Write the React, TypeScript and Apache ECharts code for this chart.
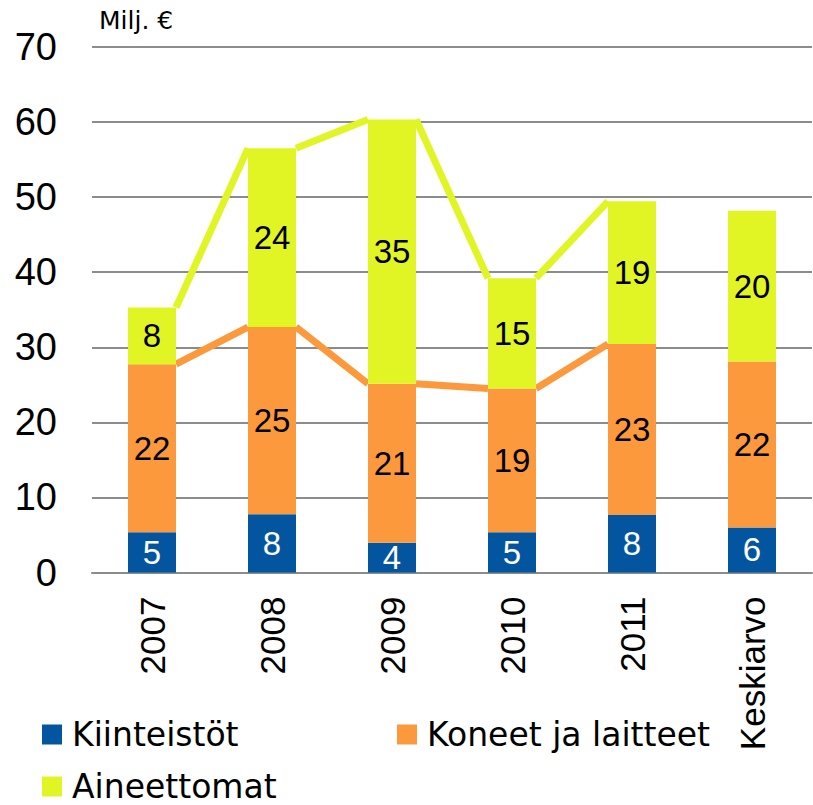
import React, { useEffect, useRef } from "react";
import * as echarts from "echarts";

const categories = ["2007", "2008", "2009", "2010", "2011", "Keskiarvo"];
const kiinteistot = [5.35, 7.75, 3.95, 5.35, 7.65, 6.0];
const koneet = [22.4, 24.95, 21.2, 19.15, 22.8, 22.1];
const aineettomat = [7.55, 23.8, 35.2, 14.7, 19.0, 20.1];
const seriesNames = ["Kiinteistöt", "Koneet ja laitteet", "Aineettomat"];
const yMin = 0;
const yMax = 70;
const yInterval = 10;
const unitLabel = "Milj. €";
// number of categories joined by series lines (2007–2011)
const linkedCount = 5;

const BLUE = "#03559F";
const ORANGE = "#FC993C";
const YELLOW = "#E1F525";
const DIGIT_FONT = "'Liberation Sans Narrow', 'Liberation Sans', sans-serif";
const TEXT_FONT = "'DejaVu Sans', sans-serif";

export default function App() {
  const ref = useRef<HTMLDivElement>(null);
  useEffect(() => {
    if (!ref.current) return;
    const chart = echarts.init(ref.current, null, { renderer: "svg" });

    const orangeTop = kiinteistot.map((v, i) => v + koneet[i]);
    const totalTop = orangeTop.map((v, i) => v + aineettomat[i]);
    const pairs = (tops: number[]) => {
      const out: number[][] = [];
      for (let i = 0; i < linkedCount - 1; i++) out.push([i, tops[i], tops[i + 1]]);
      return out;
    };
    const makeLine = (tops: number[], color: string) => ({
      type: "custom",
      z: 1,
      silent: true,
      encode: { x: 0, y: [1, 2] },
      data: pairs(tops),
      renderItem: (params: any, api: any) => {
        const i = api.value(0);
        const p1 = api.coord([i, api.value(1)]);
        const p2 = api.coord([i + 1, api.value(2)]);
        const half = api.size([1, 0])[0] * 0.2;
        return {
          type: "line",
          shape: { x1: p1[0] + half, y1: p1[1], x2: p2[0] - half, y2: p2[1] },
          style: { stroke: color, lineWidth: 7, fill: null },
        };
      },
    });

    const barLabel = (color: string) => ({
      show: true,
      position: "inside",
      color,
      fontFamily: DIGIT_FONT,
      fontSize: 33,
      formatter: (p: any) => String(Math.round(p.value)),
    });

    const legendText = {
      fontFamily: TEXT_FONT,
      fontSize: 33,
      color: "#000",
      lineHeight: 30,
      padding: [0, 0, 0, 5],
    };
    const legendBase = {
      orient: "horizontal",
      icon: "rect",
      itemWidth: 20,
      itemHeight: 20,
      padding: 0,
      textStyle: legendText,
      selectedMode: false,
    };

    chart.setOption({
      animation: false,
      backgroundColor: "#fff",
      grid: { left: 92, right: 1, top: 47, bottom: 232.5, containLabel: false },
      legend: [
        { ...legendBase, data: [seriesNames[0]], left: 42, top: 718 },
        { ...legendBase, data: [seriesNames[1]], left: 397, top: 718 },
        { ...legendBase, data: [seriesNames[2]], left: 42, top: 770 },
      ],
      graphic: [
        {
          type: "text",
          left: 99,
          top: 8,
          style: { text: unitLabel, fontFamily: TEXT_FONT, fontSize: 25, fill: "#000" },
        },
      ],
      xAxis: {
        type: "category",
        data: categories,
        axisTick: { show: false },
        axisLine: { show: true, lineStyle: { color: "#8c8c8c", width: 2 } },
        axisLabel: {
          rotate: 90,
          margin: 24,
          fontFamily: "'Liberation Sans', sans-serif",
          fontSize: 35,
          color: "#000",
          interval: 0,
        },
      },
      yAxis: {
        type: "value",
        min: yMin,
        max: yMax,
        interval: yInterval,
        axisLine: { show: false },
        axisTick: { show: false },
        splitLine: { lineStyle: { color: "#8c8c8c", width: 2 } },
        axisLabel: {
          margin: 35,
          fontFamily: DIGIT_FONT,
          fontSize: 38,
          color: "#000",
        },
      },
      series: [
        makeLine(orangeTop, ORANGE),
        makeLine(totalTop, YELLOW),
        {
          name: seriesNames[0],
          type: "bar",
          stack: "total",
          z: 2,
          barWidth: "40%",
          itemStyle: { color: BLUE },
          label: barLabel("#fff"),
          data: kiinteistot,
        },
        {
          name: seriesNames[1],
          type: "bar",
          stack: "total",
          z: 2,
          barWidth: "40%",
          itemStyle: { color: ORANGE },
          label: barLabel("#000"),
          data: koneet,
        },
        {
          name: seriesNames[2],
          type: "bar",
          stack: "total",
          z: 2,
          barWidth: "40%",
          itemStyle: { color: YELLOW },
          label: barLabel("#000"),
          data: aineettomat,
        },
      ],
    });
    return () => chart.dispose();
  }, []);
  return (
    <div
      ref={ref}
      style={{ position: "fixed", left: 0, top: 0, width: 813, height: 805 }}
    />
  );
}
